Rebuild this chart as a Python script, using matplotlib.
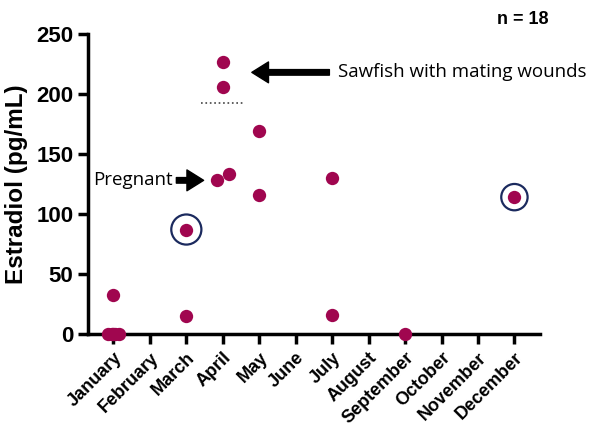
import matplotlib
matplotlib.use('Agg')
import matplotlib.pyplot as plt
import numpy as np

# 月份与雌二醇数据
months = ['January', 'February', 'March', 'April', 'May', 'June', 'July',
          'August', 'September', 'October', 'November', 'December']
month_idx = [0, 0, 0, 0, 0, 0, 2, 2, 3, 3, 3, 3, 4, 4, 6, 6, 8, 11]
offsets = [0, -0.15, -0.05, 0.05, 0.15, 0, 0, 0, 0, 0, -0.15, 0.18, 0, 0, 0, 0, 0, 0]
estradiol = [32.5, 0, 0, 0, 0, 0, 87, 15, 227, 206, 128, 133, 169, 116, 130, 16, 0, 114]
circled = [(2, 87, 470), (11, 114, 360)]
mating_mean = 192.5

plt.rcParams['font.family'] = ['Liberation Sans', 'DejaVu Sans']
fig = plt.figure(figsize=(5.94, 4.47), dpi=100)
ax = fig.add_axes([0.148, 0.253, 0.761, 0.671])

x = np.array(month_idx) + np.array(offsets)
ax.scatter(x, estradiol, s=92, color='#A0064F', zorder=3, clip_on=False, linewidths=0)

# 圈出的点
for cx, cy, cs in circled:
    ax.scatter([cx], [cy], s=cs, facecolors='none', edgecolors='#1B2A5E', linewidths=1.6, zorder=4)

ax.plot([3 - 0.6, 3 + 0.6], [mating_mean, mating_mean], ls=':', color='#444444', lw=1.2)

ax.set_xlim(-0.7, 11.7)
ax.set_ylim(0, 250)
ax.set_yticks([0, 50, 100, 150, 200, 250])
ax.set_xticks(range(12))
ax.set_xticklabels(months, rotation=45, ha='right', rotation_mode='anchor', fontsize=13, fontweight='bold')
for lbl in ax.get_yticklabels():
    lbl.set_fontsize(16)
    lbl.set_fontweight('bold')
ax.set_ylabel('Estradiol (pg/mL)', fontsize=17.5, fontweight='bold', labelpad=6)

ax.spines['top'].set_visible(False)
ax.spines['right'].set_visible(False)
for s in ['left', 'bottom']:
    ax.spines[s].set_linewidth(2.5)
ax.tick_params(width=2.5, length=7)
ax.tick_params(axis='x', pad=4)

# 注释箭头
ax.annotate('', xy=(3.72, 218), xytext=(6.0, 218),
            arrowprops=dict(arrowstyle='simple,head_width=1.5,head_length=1.2,tail_width=0.4', color='black'))
ax.text(6.15, 218, 'Sawfish with mating wounds', fontsize=13.5, va='center', ha='left',
        family=['Open Sans', 'DejaVu Sans'])
ax.annotate('', xy=(2.55, 128), xytext=(1.65, 128),
            arrowprops=dict(arrowstyle='simple,head_width=1.5,head_length=1.2,tail_width=0.4', color='black'))
ax.text(1.62, 128, 'Pregnant', fontsize=13.5, va='center', ha='right', family=['Open Sans', 'DejaVu Sans'])

fig.text(0.88, 0.957, 'n = 18', fontsize=13, fontweight='bold', ha='center', va='center')

fig.savefig('out.png', dpi=100)
